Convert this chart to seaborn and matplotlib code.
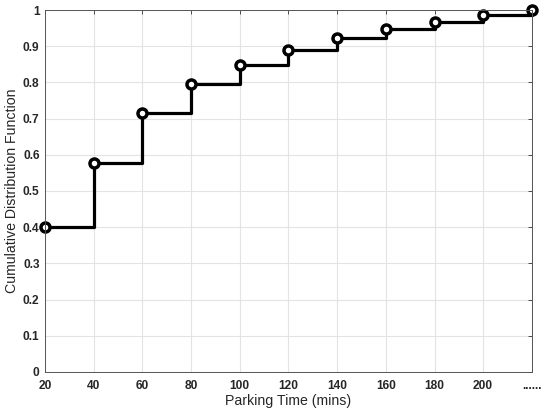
import numpy as np
import pandas as pd
import matplotlib
matplotlib.use("Agg")
import matplotlib.pyplot as plt
import seaborn as sns

# data
parking_time = [20, 40, 60, 80, 100, 120, 140, 160, 180, 200, 220]
cdf_values = [0.40, 0.578, 0.715, 0.795, 0.848, 0.890, 0.924, 0.948, 0.968, 0.987, 1.0]
x_tick_labels = ["20", "40", "60", "80", "100", "120", "140", "160", "180", "200", "......"]
y_ticks = [0, 0.1, 0.2, 0.3, 0.4, 0.5, 0.6, 0.7, 0.8, 0.9, 1]

df = pd.DataFrame({"time": parking_time, "cdf": cdf_values})

sns.set_style("white")
plt.rcParams["font.family"] = ["Liberation Sans", "DejaVu Sans"]

fig = plt.figure(figsize=(5.5, 4.17), dpi=100)
ax = fig.add_axes([0.082, 0.108, 0.885, 0.868])

sns.lineplot(data=df, x="time", y="cdf", ax=ax, color="black",
             drawstyle="steps-post", linewidth=2.3,
             marker="o", markersize=6.5, markerfacecolor="white",
             markeredgecolor="black", markeredgewidth=2.5, clip_on=False)

ax.set_xlim(20, 220)
ax.set_ylim(0, 1)
ax.set_xticks(parking_time)
ax.set_xticklabels(x_tick_labels)
ax.set_yticks(y_ticks)
ax.set_yticklabels(["0" if v == 0 else ("1" if v == 1 else f"{v:g}") for v in y_ticks])

ax.grid(True, color="#e3e3e3", linewidth=0.8)
ax.tick_params(direction="in", length=3, width=0.6, color="#333333",
               top=True, right=True, labelsize=8.6)
ax.tick_params(axis="x", pad=6)
ax.tick_params(axis="y", pad=4)
for lbl in ax.get_xticklabels() + ax.get_yticklabels():
    lbl.set_fontweight("bold")
for s in ax.spines.values():
    s.set_color("#555555")
    s.set_linewidth(0.7)

ax.set_xlabel("Parking Time (mins)", fontsize=10.2, labelpad=1)
ax.set_ylabel("Cumulative Distribution Function", fontsize=10.2, labelpad=3)

fig.savefig("out.png", dpi=100)
